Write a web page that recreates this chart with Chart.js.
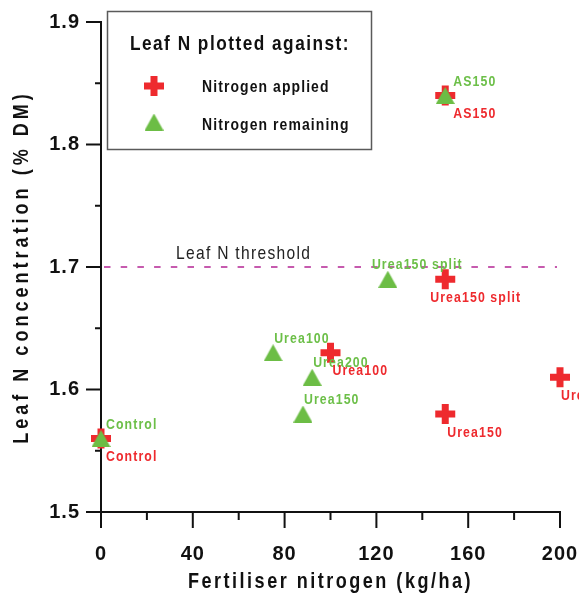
<!DOCTYPE html>
<html>
<head>
<meta charset="utf-8">
<script src="https://cdn.jsdelivr.net/npm/chart.js@4/dist/chart.umd.min.js"></script>
<style>
  html, body { margin: 0; padding: 0; background: #fff; }
  #wrap { width: 579px; height: 593px; }
</style>
</head>
<body>
<div id="wrap"><canvas id="chart" width="579" height="593"></canvas></div>
<script>
// Treatments and their leaf N readings
const treatments = ['Control', 'Urea100', 'Urea150', 'Urea150 split', 'Urea200', 'AS150'];
const nApplied   = [0, 100, 150, 150, 200, 150];   // kg N/ha applied
const nRemaining = [0, 75, 88, 125, 92, 150];      // kg N/ha remaining
const leafN      = [1.56, 1.63, 1.58, 1.69, 1.61, 1.84]; // % DM

// Axis ticks
const xTicks = [0, 40, 80, 120, 160, 200];
const xMinorTicks = [20, 60, 100, 140, 180];
const yTicks = [1.5, 1.6, 1.7, 1.8, 1.9];
const yMinorTicks = [1.55, 1.65, 1.75, 1.85];

const leafNThreshold = 1.7;

// Point label nudges (pixels, left edge)
const labelNudge = {
  'Control':       { remaining: 5,   applied: 5 },
  'Urea100':       { remaining: 1,   applied: 2 },
  'Urea150':       { remaining: 1,   applied: 2 },
  'Urea150 split': { remaining: -16, applied: -15 },
  'Urea200':       { remaining: 1,   applied: 1 },
  'AS150':         { remaining: 8,   applied: 8 }
};

const RED = '#ee2a2e';
const GREEN = '#6cbd45';
const INK = '#111';
const SANS = "'Liberation Sans', Arial, sans-serif";
const SQUEEZE = 0.82; // condensed lettering

// Horizontally condensed text with tracking
function condensedText(ctx, text, x, y, opts) {
  ctx.save();
  ctx.font = opts.font;
  ctx.fillStyle = opts.color || INK;
  ctx.textAlign = opts.align || 'left';
  ctx.textBaseline = 'alphabetic';
  const sq = opts.squeeze || SQUEEZE;
  ctx.letterSpacing = ((opts.spacing || 0) / sq) + 'px';
  ctx.translate(x, y);
  if (opts.rotate) ctx.rotate(opts.rotate);
  ctx.scale(sq, 1);
  ctx.fillText(text, 0, 0);
  ctx.restore();
}

// Filled triangle marker, centred on its bounding box
function makeTriangle(w, h, color) {
  const c = document.createElement('canvas');
  c.width = w; c.height = h;
  const g = c.getContext('2d');
  g.fillStyle = color;
  g.beginPath();
  g.moveTo(w / 2, 0);
  g.lineTo(w, h);
  g.lineTo(0, h);
  g.closePath();
  g.fill();
  return c;
}
const triangleImg = makeTriangle(19, 17, GREEN);

function drawCross(ctx, x, y, half, width, color) {
  ctx.save();
  ctx.strokeStyle = color;
  ctx.lineWidth = width;
  ctx.lineCap = 'butt';
  ctx.beginPath();
  ctx.moveTo(x - half, y); ctx.lineTo(x + half, y);
  ctx.moveTo(x, y - half); ctx.lineTo(x, y + half);
  ctx.stroke();
  ctx.restore();
}

const decor = {
  id: 'decor',
  beforeDraw(chart) {
    chart.ctx.letterSpacing = '1px';
  },
  beforeDatasetsDraw(chart) {
    const { ctx, scales: { x, y } } = chart;
    const x0 = x.getPixelForValue(0), x1 = x.getPixelForValue(200);
    const yb = y.getPixelForValue(1.5), yt = y.getPixelForValue(1.9);
    ctx.save();
    ctx.letterSpacing = '0px';
    // threshold line
    const yh = y.getPixelForValue(leafNThreshold);
    ctx.strokeStyle = '#c65aae';
    ctx.lineWidth = 2.2;
    ctx.setLineDash([6.5, 10.2]);
    ctx.beginPath();
    ctx.moveTo(x0 + 3, yh);
    ctx.lineTo(x1 - 3, yh);
    ctx.stroke();
    ctx.setLineDash([]);
    condensedText(ctx, 'Leaf N threshold', x0 + 75, yh - 8,
      { font: '19px ' + SANS, spacing: 1.3, color: '#222' });

    // axes
    ctx.strokeStyle = INK;
    ctx.lineWidth = 2;
    ctx.beginPath();
    ctx.moveTo(x0, yb); ctx.lineTo(x1 + 1, yb);
    ctx.moveTo(x0, yb); ctx.lineTo(x0, yt - 1);
    xTicks.forEach(v => { const p = x.getPixelForValue(v); ctx.moveTo(p, yb); ctx.lineTo(p, yb + 16); });
    xMinorTicks.forEach(v => { const p = x.getPixelForValue(v); ctx.moveTo(p, yb); ctx.lineTo(p, yb + 8); });
    yTicks.forEach(v => { const p = y.getPixelForValue(v); ctx.moveTo(x0, p); ctx.lineTo(x0 - 15, p); });
    yMinorTicks.forEach(v => { const p = y.getPixelForValue(v); ctx.moveTo(x0, p); ctx.lineTo(x0 - 6, p); });
    ctx.stroke();
    ctx.restore();
  },
  afterDatasetsDraw(chart) {
    const ctx = chart.ctx;
    chart.data.datasets.forEach((ds, di) => {
      const meta = chart.getDatasetMeta(di);
      const key = ds.seriesKey;
      const color = key === 'applied' ? RED : '#6cbf48';
      meta.data.forEach((pt, i) => {
        const name = treatments[i];
        const dx = labelNudge[name][key];
        const dy = key === 'applied' ? 22.5 : -10;
        condensedText(ctx, name, pt.x + dx, pt.y + dy,
          { font: 'bold 15px ' + SANS, spacing: 1.1, color });
      });
    });
  },
  afterDraw(chart) {
    const { ctx, chartArea } = chart;
    ctx.save();
    ctx.letterSpacing = '0px';
    // legend box
    ctx.fillStyle = '#fff';
    ctx.fillRect(107.5, 11.5, 264, 138);
    ctx.strokeStyle = '#5a5a5a';
    ctx.lineWidth = 1.5;
    ctx.strokeRect(107.5, 11.5, 264, 138);
    condensedText(ctx, 'Leaf N plotted against:', 240, 50,
      { font: 'bold 21px ' + SANS, spacing: 1.5, align: 'center' });
    drawCross(ctx, 154, 86, 10, 7, RED);
    ctx.drawImage(triangleImg, 154 - 9.5, 122 - 8.5);
    condensedText(ctx, 'Nitrogen applied', 202, 92, { font: 'bold 17px ' + SANS, spacing: 1.1 });
    condensedText(ctx, 'Nitrogen remaining', 202, 130, { font: 'bold 17px ' + SANS, spacing: 1.1 });

    // axis titles
    condensedText(ctx, 'Fertiliser nitrogen (kg/ha)', (chartArea.left + chartArea.right) / 2, 588,
      { font: 'bold 22px ' + SANS, spacing: 2.5, align: 'center' });
    condensedText(ctx, 'Leaf N concentration (% DM)', 28, (chartArea.top + chartArea.bottom) / 2,
      { font: 'bold 22px ' + SANS, spacing: 4, align: 'center', rotate: -Math.PI / 2 });
    ctx.restore();
  }
};

new Chart(document.getElementById('chart'), {
  type: 'scatter',
  data: {
    datasets: [
      {
        label: 'Nitrogen remaining',
        seriesKey: 'remaining',
        data: treatments.map((t, i) => ({ x: nRemaining[i], y: leafN[i] })),
        pointStyle: triangleImg,
        pointRadius: 10,
        order: 0,
        clip: false
      },
      {
        label: 'Nitrogen applied',
        seriesKey: 'applied',
        data: treatments.map((t, i) => ({ x: nApplied[i], y: leafN[i] })),
        pointStyle: 'cross',
        pointRadius: 10,
        pointBorderWidth: 7,
        pointBorderColor: RED,
        pointBackgroundColor: RED,
        order: 1,
        clip: false
      }
    ]
  },
  options: {
    responsive: false,
    animation: false,
    events: [],
    layout: { padding: { top: 22, right: 19, bottom: 0, left: 0 } },
    plugins: { legend: { display: false }, tooltip: { enabled: false } },
    scales: {
      x: {
        type: 'linear',
        min: xTicks[0],
        max: xTicks[xTicks.length - 1],
        grid: { display: false, drawTicks: false },
        border: { display: false },
        afterBuildTicks: s => { s.ticks = xTicks.map(v => ({ value: v })); },
        afterFit: s => { s.height = 81; s.paddingLeft = 0; s.paddingRight = 0; },
        ticks: {
          padding: 30,
          color: INK,
          font: { family: SANS, size: 20, weight: 'bold' },
          callback: v => String(v),
          maxRotation: 0,
          autoSkip: false
        }
      },
      y: {
        type: 'linear',
        min: yTicks[0],
        max: yTicks[yTicks.length - 1],
        grid: { display: false, drawTicks: false },
        border: { display: false },
        afterBuildTicks: s => { s.ticks = yTicks.map(v => ({ value: v })); },
        afterFit: s => { s.width = 101; s.paddingTop = 0; s.paddingBottom = 0; },
        ticks: {
          padding: 21,
          color: INK,
          font: { family: SANS, size: 20, weight: 'bold' },
          callback: v => v.toFixed(1),
          autoSkip: false
        }
      }
    }
  },
  plugins: [decor]
});
</script>
</body>
</html>
